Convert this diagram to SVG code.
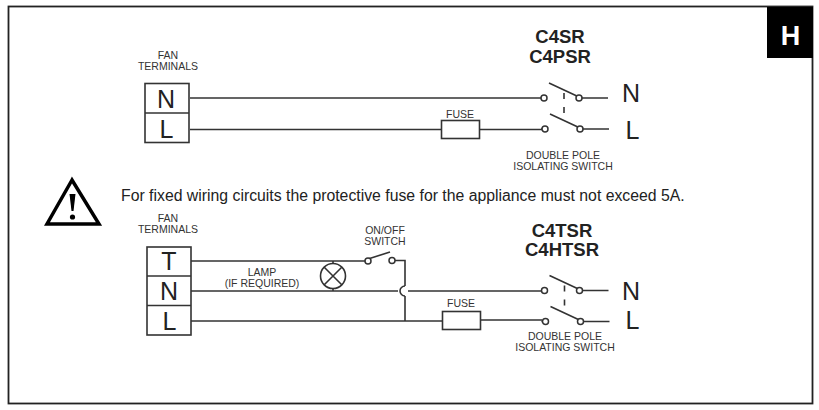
<svg xmlns="http://www.w3.org/2000/svg" width="819" height="410" viewBox="0 0 819 410">
<style>
text{font-family:"Liberation Sans",Arial,sans-serif;fill:#222}
.s{font-size:10.500px;text-anchor:middle;fill:#333}
.t{font-size:25px;text-anchor:middle;fill:#222}
.b{font-size:18.500px;font-weight:bold;text-anchor:middle}
.w{fill:none;stroke:#333;stroke-width:1.6}
.c{fill:#fff;stroke:#333;stroke-width:1.5}
.x{fill:#fff;stroke:#333;stroke-width:1.6}
</style>
<defs>
<g id="dp">
<path class="w" d="M0 0H-3M34 0H64M1 31H-3M35 31H65M5-15L35-1M6 16L36 30M20-5V1M20 9V15"/>
<circle class="c" cx="0" cy="0" r="3"/><circle class="c" cx="35" cy="0" r="3"/>
<circle class="c" cx="1" cy="31" r="3"/><circle class="c" cx="36" cy="31" r="3"/>
</g>
</defs>
<rect x="8.500" y="6.500" width="804" height="397" fill="#fff" stroke="#222" stroke-width="1.800"/>
<g id="badge"><rect x="767" y="7" width="46" height="51" fill="#000"/><text x="790.500" y="45" font-size="27" font-weight="bold" text-anchor="middle" style="fill:#fff">H</text></g>
<g id="connectors">
<path class="w" d="M190 98H541M190 129.500H441M480 129.500H542"/>
<path class="w" d="M191 261H365M191 291H398M408 291H541M191 321H442M481 320H542M392 260.500H405V286M405 296V321"/>
<path class="w" d="M405 286A5 5 0 0 0 405 296"/>
</g>
<g id="fan1"><text class="s" x="168" y="59">FAN</text><text class="s" x="168" y="70">TERMINALS</text>
<rect class="x" x="145" y="83.500" width="44" height="59"/><path class="w" d="M145 113H189"/>
<text class="t" x="166" y="108">N</text><text class="t" x="166.500" y="138">L</text></g>
<g id="fuse1"><text class="s" x="460" y="118">FUSE</text><rect class="x" x="441.500" y="120.500" width="38" height="18"/></g>
<g id="switch1"><use href="#dp" x="544" y="98"/><text class="s" x="563" y="159">DOUBLE POLE</text><text class="s" x="563" y="170">ISOLATING SWITCH</text></g>
<g id="model1"><text class="b" x="560" y="43">C4SR</text><text class="b" x="560" y="63">C4PSR</text>
<text class="t" x="631" y="102">N</text><text class="t" x="632.500" y="139">L</text></g>
<g id="warning">
<path d="M72 180L47 224H99Z" fill="#fff" stroke="#000" stroke-width="3.500" stroke-linejoin="miter"/>
<path d="M69.500 194H75.500L73.500 211H71.500Z" fill="#000"/><circle cx="72.500" cy="217" r="2.600" fill="#000"/>
<text x="121" y="201" font-size="15.800" style="fill:#222">For fixed wiring circuits the protective fuse for the appliance must not exceed 5A.</text></g>
<g id="fan2"><text class="s" x="168" y="222">FAN</text><text class="s" x="168" y="233">TERMINALS</text>
<rect class="x" x="147" y="247" width="44" height="88"/><path class="w" d="M147 276H191M147 305.500H191"/>
<text class="t" x="169" y="270">T</text><text class="t" x="169" y="300">N</text><text class="t" x="169.500" y="330">L</text></g>
<g id="lamp"><text class="s" x="262" y="276">LAMP</text><text class="s" x="262" y="287">(IF REQUIRED)</text>
<circle class="x" cx="333" cy="276" r="12.500"/><path class="w" d="M324 267L342 285M342 267L324 285"/>
<path class="w" d="M333 261V263.500M333 288.500V291"/></g>
<g id="onoff"><text class="s" x="385" y="234">ON/OFF</text><text class="s" x="385" y="245">SWITCH</text>
<path class="w" d="M368 259L390 252"/><circle class="c" cx="368" cy="261" r="3"/><circle class="c" cx="392" cy="260.500" r="3"/></g>
<g id="fuse2"><text class="s" x="461" y="307">FUSE</text><rect class="x" x="442.500" y="311.500" width="38" height="18"/></g>
<g id="switch2"><use href="#dp" x="544.500" y="290.500"/><text class="s" x="565" y="340">DOUBLE POLE</text><text class="s" x="565" y="351">ISOLATING SWITCH</text></g>
<g id="model2"><text class="b" x="562" y="237">C4TSR</text><text class="b" x="562" y="256">C4HTSR</text>
<text class="t" x="631" y="300">N</text><text class="t" x="632.500" y="329">L</text></g>
</svg>
